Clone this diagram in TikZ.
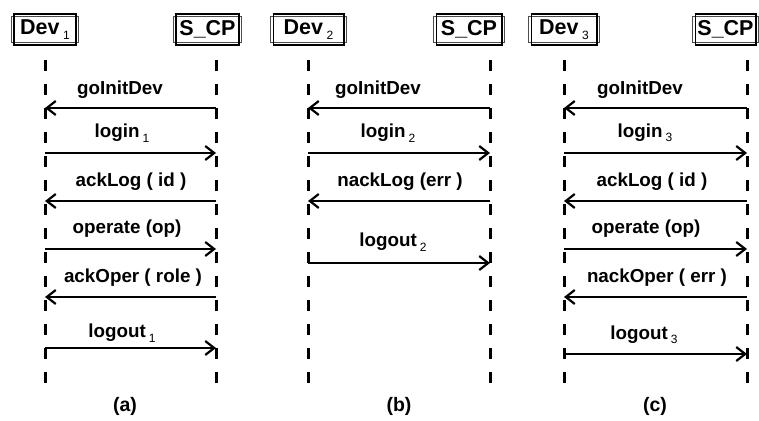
\documentclass[tikz,border=0pt]{standalone}
\usepackage{fontspec}
\setmainfont{Liberation Sans}
\usetikzlibrary{arrows.meta}
\tikzset{
  actor/.style={minimum height=31pt,inner sep=0pt,
    font=\fontsize{21.5}{22}\selectfont\bfseries},
  lifeline/.style={line width=3pt,dash pattern=on 11pt off 13pt},
  msgline/.style={line width=2.2pt,-{Straight Barb[length=9pt,width=14pt,line width=2.2pt]}},
  msglabel/.style={font=\fontsize{18.8}{19}\selectfont\bfseries,inner sep=0pt},
  panel/.style={font=\fontsize{19.5}{20}\selectfont\bfseries,inner sep=0pt}
}
\newcommand{\subn}[1]{\,\raisebox{-0.45ex}{\fontsize{12}{13}\selectfont\mdseries #1}}
\newcommand{\frameit}[1]{%
  \draw[line width=0.8pt,black!70] ([shift={(-2.5pt,2.5pt)}]#1.south west) rectangle ([shift={(2.5pt,-2.5pt)}]#1.north east);
  \draw[line width=1.6pt] (#1.south west) rectangle (#1.north east);}
\begin{document}
\begin{tikzpicture}[x=1pt,y=-1pt]
\useasboundingbox (0,0) rectangle (759,420);
% actor boxes
\node[actor,minimum width=62pt] (d1) at (45,29.5) {Dev\subn{1}};
\node[actor,minimum width=63pt] (s1) at (207.5,29.5) {S\_CP};
\node[actor,minimum width=70pt] (d2) at (308.5,29.5) {Dev\subn{2}};
\node[actor,minimum width=65pt] (s2) at (469,29.5) {S\_CP};
\node[actor,minimum width=65pt] (d3) at (564,29.5) {Dev\subn{3}};
\node[actor,minimum width=60pt] (s3) at (725.5,29.5) {S\_CP};
\foreach \n in {d1,s1,d2,s2,d3,s3} {\frameit{\n}}
% lifeline ends
\coordinate (L1t) at (45,60);  \coordinate (L1b) at (45,390);
\coordinate (R1t) at (216,60); \coordinate (R1b) at (216,390);
\coordinate (L2t) at (308,60); \coordinate (L2b) at (308,390);
\coordinate (R2t) at (490,60); \coordinate (R2b) at (490,390);
\coordinate (L3t) at (564,60); \coordinate (L3b) at (564,390);
\coordinate (R3t) at (747,60); \coordinate (R3b) at (747,390);
\foreach \p in {L1,R1,L2,R2,L3,R3} \draw[lifeline] (\p t) -- (\p b);
% messages
\newcommand{\msg}[3]{\draw[msgline] (#1t |- 0,#3) -- (#2t |- 0,#3);}
% panel a
\msg{R1}{L1}{108} \node[msglabel] (a1) at (120,90) {goInitDev};
\msg{L1}{R1}{153} \node[msglabel] (a2) at (122,133) {login\subn{1}};
\msg{R1}{L1}{201} \node[msglabel] (a3) at (131,182) {ackLog ( id )};
\msg{L1}{R1}{249} \node[msglabel] (a4) at (127,229) {operate (op)};
\msg{R1}{L1}{297} \node[msglabel] (a5) at (133,278) {ackOper ( role )};
\msg{L1}{R1}{348} \node[msglabel] (a6) at (122,333) {logout\subn{1}};
% panel b
\msg{R2}{L2}{108} \node[msglabel] (b1) at (378,90) {goInitDev};
\msg{L2}{R2}{153} \node[msglabel] (b2) at (388,133) {login\subn{2}};
\msg{R2}{L2}{201} \node[msglabel] (b3) at (400,182) {nackLog (err )};
\msg{L2}{R2}{263} \node[msglabel] (b4) at (393,242) {logout\subn{2}};
% panel c
\msg{R3}{L3}{108} \node[msglabel] (c1) at (640,90) {goInitDev};
\msg{L3}{R3}{153} \node[msglabel] (c2) at (645,133) {login\subn{3}};
\msg{R3}{L3}{201} \node[msglabel] (c3) at (652,182) {ackLog ( id )};
\msg{L3}{R3}{249} \node[msglabel] (c4) at (646,229) {operate (op)};
\msg{R3}{L3}{297} \node[msglabel] (c5) at (657,278) {nackOper ( err )};
\msg{L3}{R3}{354} \node[msglabel] (c6) at (644,335) {logout\subn{3}};
% panel captions
\node[panel] (pa) at (125,406) {(a)};
\node[panel] (pb) at (399,406) {(b)};
\node[panel] (pc) at (655,406) {(c)};
\end{tikzpicture}
\end{document}
